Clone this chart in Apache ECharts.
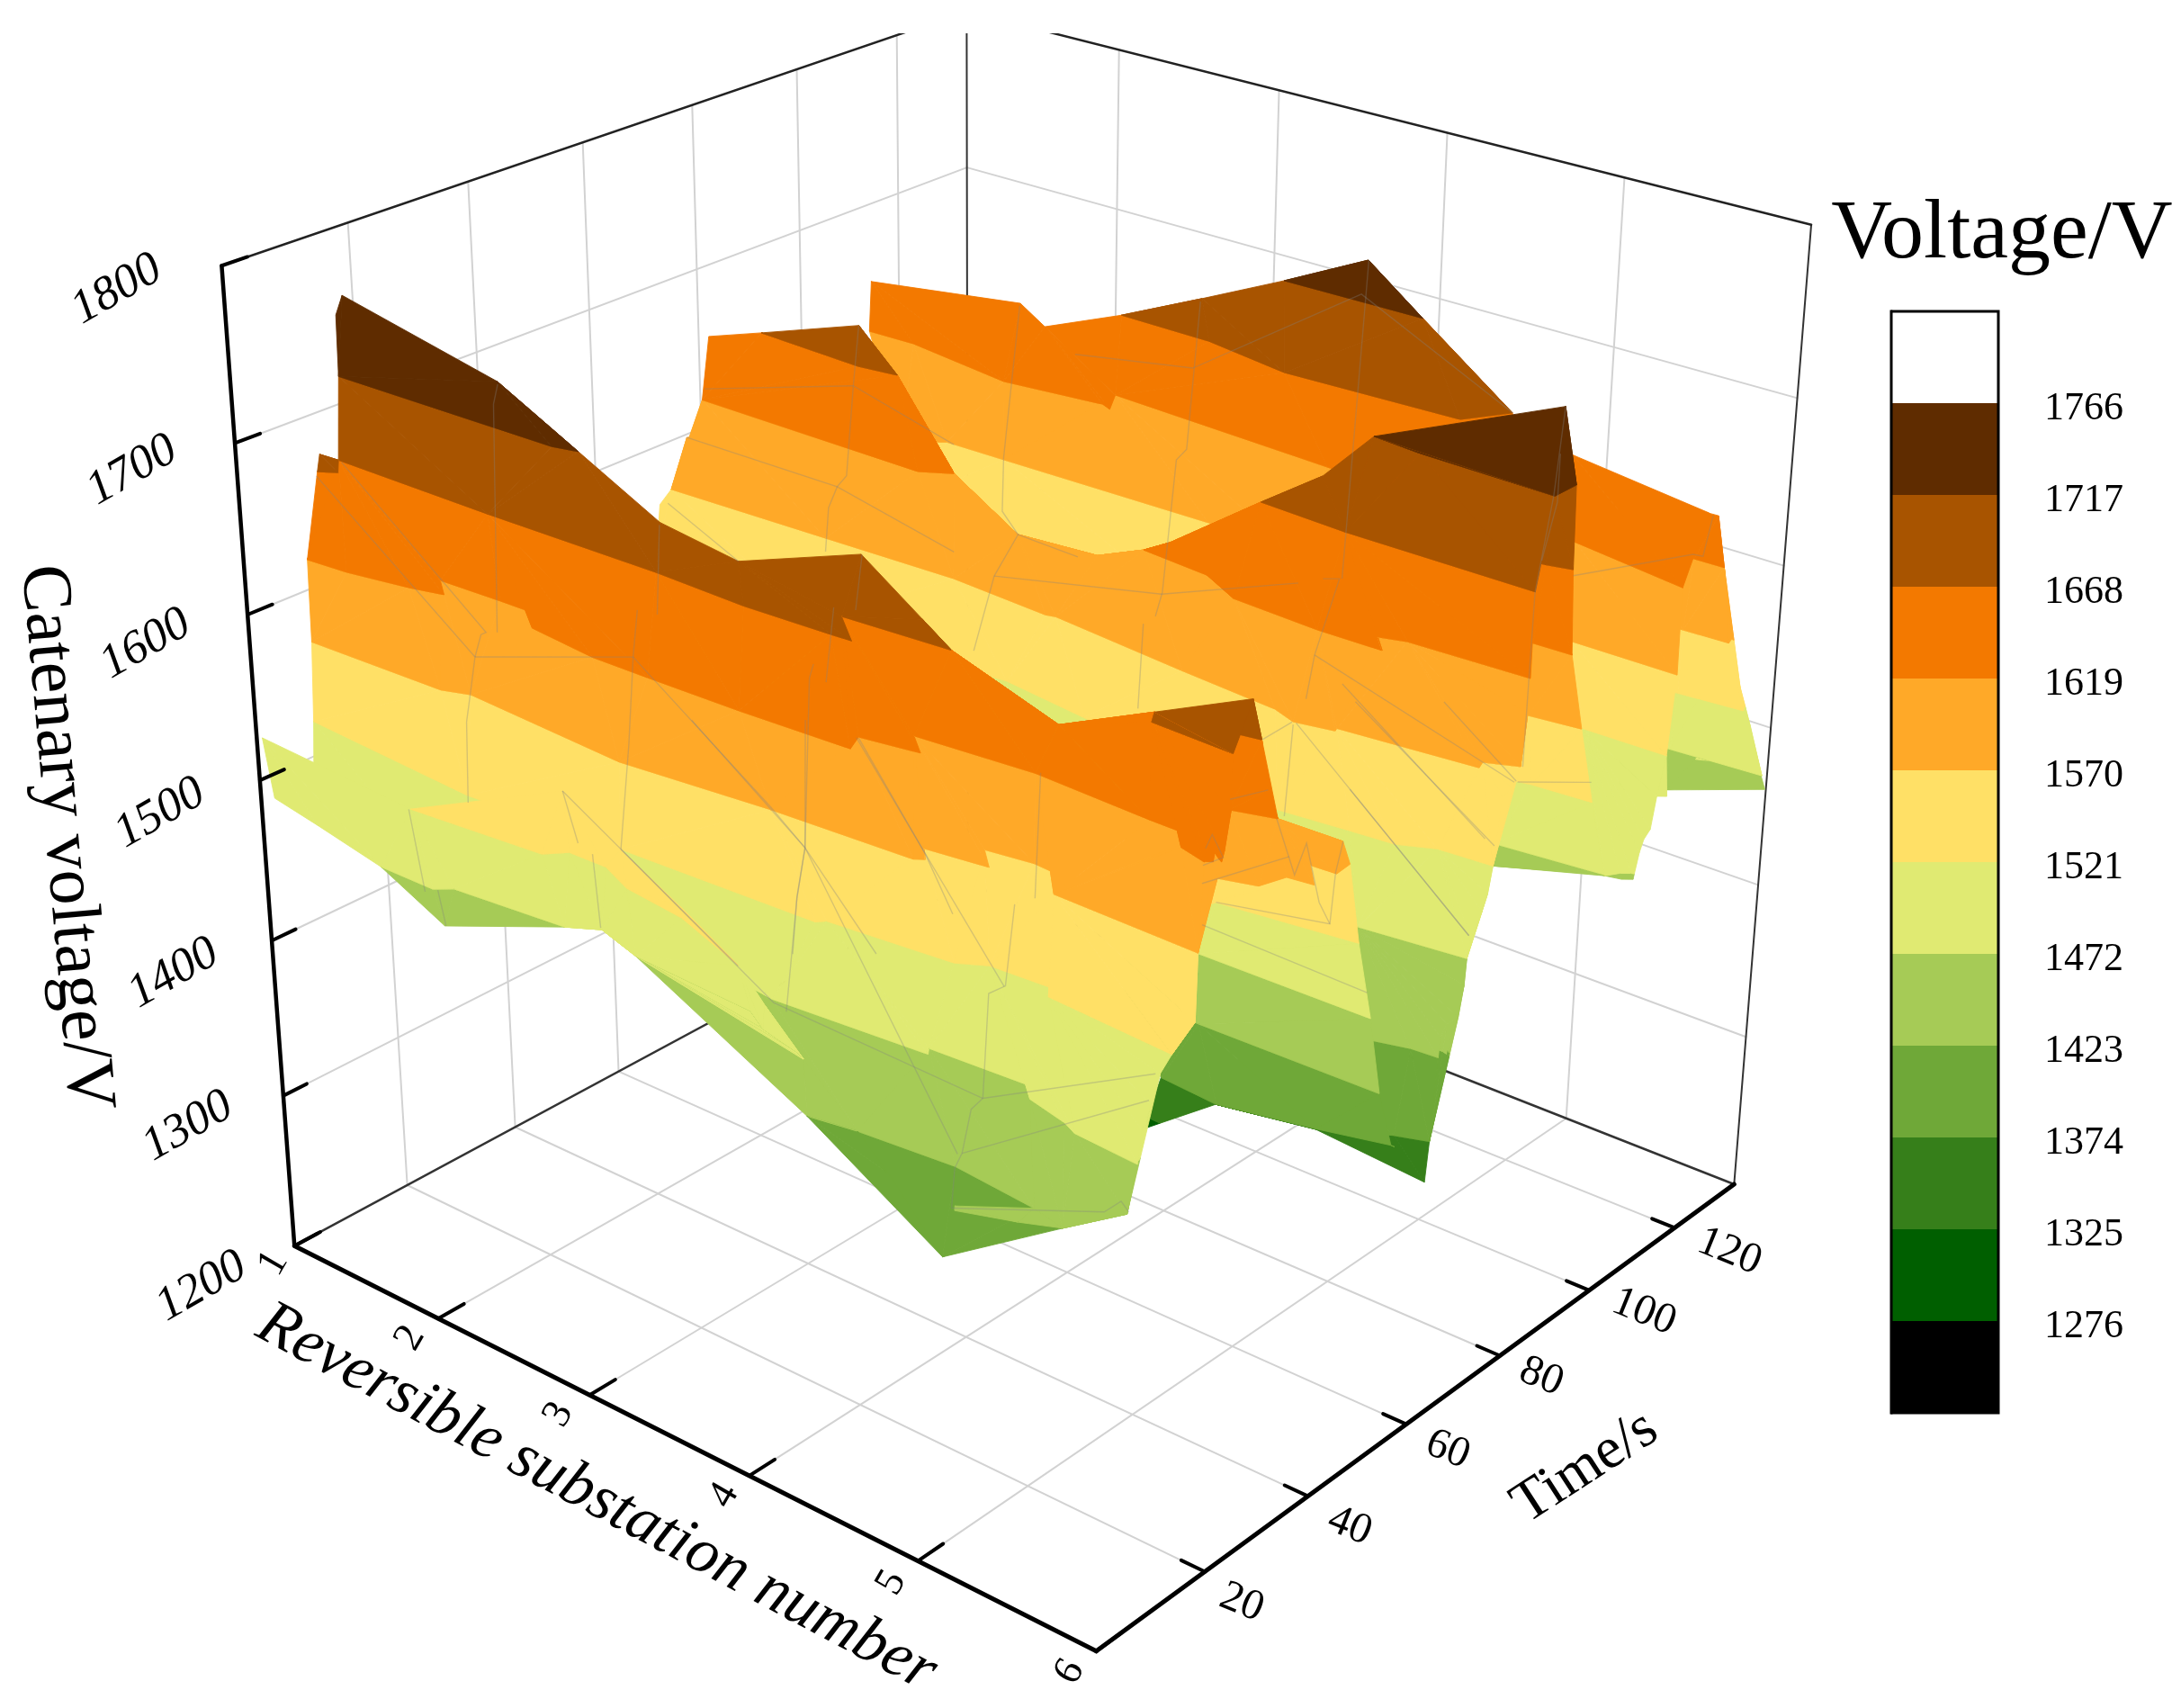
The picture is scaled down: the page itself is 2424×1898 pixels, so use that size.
<!DOCTYPE html>
<html><head><meta charset="utf-8"><style>html,body{margin:0;background:#fff}#c{width:2424px;height:1898px}</style>
<script src="https://cdn.jsdelivr.net/npm/echarts@6/dist/echarts.min.js"></script></head><body><div id="c"></div><script>
const bandEdges=[1227,1276,1325,1374,1423,1472,1521,1570,1619,1668,1717,1766,1815];
const bandColors=['#000000','#005f00','#367f1a','#6fa838','#a6cb56','#e0ea72','#ffe066','#ffa928','#f37900','#a85400','#5f2c00','#ffffff'];
const xTicks=[1,2,3,4,5,6],timeTicks=[20,40,60,80,100,120],voltTicks=[1200,1300,1400,1500,1600,1700,1800];
const xTickLabels=['1','2','3','4','5','6'],timeTickLabels=['20','40','60','80','100','120'],voltTickLabels=['1200','1300','1400','1500','1600','1700','1800'];
// Surface faces, back to front. Each row: [default voltage, [substation, time, voltage?], ...]
const faceB=[[1521,[1.35,109.3],[2.47,98.6],[3.11,109.5],[3.31,121.9],[4.71,130.8]],
[1570,[1.46,106.1],[1.64,110.2],[2.01,110.4],[3.29,111.2],[3.68,112.5],[4.91,121.8]],
[1619,[1.01,113.5],[1.30,113.8],[1.99,111.0],[2.56,113.2],[2.63,112.4],[2.53,116.9],[3.89,115.0],[5.13,112.2]],
[1668,[1.00,114.3,1650],[2.00,114.1,1665],[2.19,113.1,1657],[2.53,118.0],[3.08,117.9],[3.61,115.3],[4.60,116.7],[4.74,122.8]],
[1717,[2.53,118.0,1668],[2.99,119.3,1690],[3.51,118.4],[4.31,118.8],[4.74,122.8,1668]],
[1717,[3.51,118.4],[4.09,114.9,1750],[4.31,118.8]]];
const faceT=[[1450,[5.28,130.5,1440],[5.45,134.4,1440],[5.90,138.9]],
[1472,[5.23,131.9],[5.51,132.2],[6.00,133.2],[5.96,131.2,1505],[5.99,127.8,1521]],
[1521,[5.33,126.7],[5.65,126.9],[5.99,127.8],[5.97,126.1,1545],[5.99,123.0,1570]],
[1570,[5.41,122.2],[5.75,122.7],[5.99,123.0],[5.99,120.6,1619]],
[1619,[5.48,118.3],[5.83,120.5],[5.99,120.6]],
[1650,[5.39,121.0],[5.82,119.5],[5.96,119.7],[5.99,120.6,1619]]];
const faceS=[[1472,[5.63,95.6],[6.01,96.9],[6.07,98.2,1470],[6.11,99.1,1470],[6.07,101.9,1480],[6.10,101.4,1490],[6.11,102.3,1495],[6.08,104.6,1510],[6.16,103.4,1515]],
[1521,[5.23,110.3],[5.53,110.4],[5.98,110.6]],
[1570,[5.15,112.5],[5.43,110.8],[6.00,110.9]],
[1619,[5.01,116.9],[5.31,115.3],[5.97,112.1]],
[1655,[4.87,121.4,1668],[5.16,119.8,1660],[5.91,119.7,1650]]];
const faceQ=[[1445,[5.01,100.3],[5.32,100.1],[6.01,96.9,1472]],
[1472,[5.13,95.5],[5.44,95.3],[6.00,97.1]],
[1521,[5.25,90.3],[5.68,93.1],[5.99,93.8]],
[1570,[5.29,87.8],[5.73,89.5],[5.99,90.5]],
[1619,[5.29,87.0],[5.80,86.8],[6.00,87.0]],
[1668,[5.36,83.6],[5.87,85.7],[5.99,86.6]],
[1717,[5.38,82.0],[5.85,82.0],[6.00,81.4],[6.00,85.8]],
[1745,[5.82,82.7],[5.97,83.8,1762],[6.00,85.8,1717]]];
const faceD=[[1368,[5.06,53.2,1372],[5.50,57.5],[5.88,66.2,1335]],
[1374,[5.08,52.6],[5.55,55.7],[5.85,60.5],[6.00,62.1]],
[1423,[5.18,57.3],[5.86,62.8],[6.00,63.1],[5.96,65.0,1430],[5.98,65.4,1438],[6.04,65.3,1445],[6.02,67.0,1460],[5.99,68.5,1472]],
[1472,[1.00,70.1],[3.33,69.2],[4.64,66.6],[5.45,66.6],[5.99,68.5],[5.96,70.3,1480],[5.99,71.2,1495],[6.00,71.8,1505],[6.01,72.2,1521]],
[1521,[0.88,74.0],[1.98,72.1],[3.16,74.5],[3.69,72.5],[4.96,67.6],[5.33,68.7],[5.56,69.3],[5.73,71.6],[6.01,72.2],[5.92,77.1,1550],[5.96,77.6,1555],[6.00,77.3,1570]],
[1570,[0.99,72.0,1562],[1.01,73.7],[2.00,74.8],[2.79,75.7],[3.39,74.6],[3.44,75.0],[4.26,72.6],[4.83,71.2],[4.97,69.8],[5.17,71.0],[5.16,71.7],[5.87,73.9],[5.85,75.4],[6.00,77.3],[5.96,79.9,1595],[6.00,78.4,1619]],
[1619,[1.01,73.7,1570],[1.03,76.4,1600],[1.09,76.4,1603],[1.02,79.8],[2.44,79.6],[2.59,82.1],[2.93,83.9,1590],[3.28,88.5,1582],[3.85,78.6],[4.47,77.0],[4.50,74.1],[4.99,73.3],[5.34,73.5],[5.24,76.3],[5.37,77.5],[6.00,78.4]],
[1668,[0.99,82.2,1655],[1.35,82.1],[2.01,81.3],[2.23,82.2],[2.59,82.1,1619],[2.93,83.9,1590],[3.28,88.5,1582],[3.85,78.6,1619],[4.02,78.0,1630],[4.50,79.1],[4.99,78.3],[6.00,78.4]],
[1717,[1.35,82.1,1668],[1.97,82.7,1690],[2.23,82.2,1668],[2.59,82.1,1619],[2.93,83.9,1590],[3.28,88.5,1582],[3.85,78.6,1619],[4.02,78.0,1630],[4.50,79.1,1668],[4.79,80.8,1690],[5.01,82.7],[5.28,81.9],[6.00,81.4]],
[1717,[5.01,82.7],[5.97,83.8,1762],[6.00,81.4]]];
const faceE=[[1372,[4.40,61.6,1310],[5.06,53.2],[5.52,56.9,1370],[5.91,58.4,1374]],
[1374,[4.74,53.4],[5.08,52.6],[5.55,55.7],[5.89,58.4]],
[1423,[4.56,52.1],[5.01,51.2],[5.99,51.7]],
[1472,[4.63,49.4],[5.07,48.9],[5.99,49.3]],
[1521,[4.85,41.9],[5.28,42.1],[5.30,43.8],[5.99,46.4]],
[1570,[5.17,31.2],[5.59,31.2],[5.82,33.2],[5.86,36.9],[5.99,37.4],[5.87,41.0],[6.00,41.2],[5.99,44.1]],
[1619,[5.25,28.0],[5.79,28.5],[5.99,30.2],[6.13,37.3,1600]],
[1668,[5.60,24.0],[5.88,25.9],[6.00,26.5],[6.01,27.5,1640],[5.99,30.2,1619],[6.13,37.3,1600]],
[1695,[5.90,15.4],[6.03,23.7],[6.00,26.5,1668]]];
const faceF=[[1423,[4.48,5.9],[5.04,3.4,1380],[5.65,4.8],[5.97,5.4,1445]],
[1423,[3.17,20.3],[4.48,5.9],[4.99,7.2],[5.46,6.0],[5.65,4.8],[5.97,5.4,1445]],
[1472,[0.97,9.5,1490],[1.88,2.7,1495],[2.46,9.5,1490],[3.02,9.5,1480],[3.92,8.1],[4.75,10.0],[4.72,11.1],[5.31,12.1],[5.32,9.7],[5.55,8.2],[5.64,7.1],[5.99,6.4],[5.99,7.1,1490],[5.98,8.9,1500],[5.96,11.2,1512],[5.98,12.5,1521]],
[1521,[1.00,9.3],[2.10,7.2],[3.00,8.9],[4.11,10.2],[4.14,11.2],[4.80,13.0],[4.93,15.1],[5.49,16.0],[5.29,13.8],[5.98,12.5],[6.06,13.7,1540],[5.99,16.4,1570]],
[1570,[1.02,9.4],[1.85,10.0],[1.99,11.4],[2.98,9.7],[3.80,12.0],[4.57,13.2],[4.61,14.0],[4.54,16.0],[4.86,17.2],[4.74,20.2],[4.98,21.2],[5.24,20.6],[5.22,16.9],[5.99,16.4]],
[1619,[1.02,9.6],[1.26,10.1],[1.60,11.8],[1.78,13.1],[1.65,15.8],[2.02,16.2],[2.38,16.4],[2.34,13.1],[2.76,11.8],[3.09,11.9],[3.62,12.2],[4.23,13.0],[4.18,15.9],[4.48,17.3],[4.35,20.2],[4.97,21.7],[5.60,20.9],[5.85,20.8],[5.85,17.9],[6.00,16.8],[6.00,17.0,1625],[6.06,18.2,1625],[6.06,19.2,1645],[5.99,21.8,1668]],
[1668,[1.03,11.9],[1.11,13.3],[1.00,16.1],[1.97,16.1],[2.99,16.6],[3.52,16.2],[4.00,16.8],[4.11,17.0],[3.91,21.3],[4.49,22.4],[5.09,21.8,1650],[5.51,24.5],[5.56,22.3],[5.99,21.8]],
[1717,[1.02,16.5],[2.35,17.3],[2.48,18.2],[3.05,15.9,1699],[3.51,15.8,1693],[4.14,17.9,1715],[4.46,18.4,1690],[4.49,22.4,1668],[5.09,21.8,1650],[5.51,24.5,1668],[6.07,22.3,1699]],
[1760,[1.07,15.5,1755],[1.04,17.4,1763],[2.05,16.7,1745],[2.48,18.2,1717]]];
const faceF2=[[1423,[5.22,-0.1],[5.48,2.6],[5.65,4.8]],[1430,[5.26,-1.3],[5.52,4.0],[5.65,4.8,1423]]];
const faceF3=[[1668,[1.03,11.9],[1.11,13.3],[1.00,16.1]],[1680,[1.07,11.5],[1.00,16.1,1668]]];
const faceG=[[1472,[1.72,1.8],[2.04,3.9,1445],[2.77,5.2],[3.06,3.7,1485],[3.20,5.4],[4.23,4.7,1423],[5.04,3.4,1380]],
[1472,[1.06,0.8,1490],[1.29,2.1,1480],[1.72,1.8],[2.06,1.8],[2.13,3.5],[2.77,5.2],[3.06,3.7,1485],[3.20,5.4],[3.92,4.4],[4.07,2.2],[4.32,0.7],[4.38,0.0],[4.48,5.9,1423],[4.60,7.6,1400],[5.04,3.4,1380]],
[1521,[0.60,9.9,1495],[2.01,0.2],[2.77,2.0],[2.85,4.4],[3.07,4.5],[3.28,2.2],[3.65,1.0],[4.13,-3.2],[4.17,-0.3,1495],[4.38,0.0,1472],[4.48,5.9,1423],[4.60,7.6,1400],[5.04,3.4,1380]],
[1540,[2.01,0.2,1521],[2.75,6.3,1550],[3.20,3.6,1538],[3.68,0.1,1530],[4.13,-3.2,1521]]];
const meshVoltage=1550;
const meshPaths=[[[-0.98,93.5],[-0.79,87.7],[1.32,33.1]],[[1.00,71.5],[1.75,50.2]],[[1.64,49.6],[2.00,38.9],[2.64,20.5],[3.34,-0.1]],[[-0.76,53.4],[1.44,26.1],[1.71,18.3],[1.92,12.2],[2.52,-3.1]],[[-0.80,59.0],[1.28,32.2],[1.28,31.3],[1.44,26.1]],[[1.44,26.1],[2.00,38.9],[3.55,19.1],[3.93,13.9],[4.80,-0.1]],[[2.33,66.5],[2.87,49.0]],[[2.69,52.0],[2.78,48.6],[3.93,13.9],[4.21,4.3],[4.54,-6.1]],[[2.37,-8.8],[2.99,-22.0]],[[3.02,-20.8],[3.28,-26.2]],[[2.75,6.3],[3.16,-2.2]],[[3.28,-3.1],[3.78,-15.4]],[[2.75,6.3],[4.44,-12.0]],[[-0.11,144.7],[0.47,126.1],[1.28,100.4],[1.34,96.7],[1.49,90.5],[1.85,79.2]],[[-0.10,111.4],[0.47,126.1],[1.42,118.5]],[[0.30,96.4],[1.34,96.7],[2.33,90.1]],[[0.84,77.6],[1.61,69.4]],[[3.38,39.7],[4.36,21.7],[4.81,12.5]],[[2.01,81.6],[2.43,67.7]],[[0.36,166.6],[1.73,119.3],[2.18,104.7],[2.43,100.0],[2.67,87.5],[3.16,68.0]],[[2.67,87.5],[3.42,97.1],[3.84,111.4]],[[2.43,100.0],[2.83,99.4]],[[1.07,156.4],[1.68,163.2],[1.69,203.9],[3.36,178.8]],[[1.39,216.8],[3.97,116.2]],[[1.08,185.6],[2.37,138.2],[2.42,134.2],[3.41,97.6],[3.56,91.1]],[[3.57,88.3],[4.14,68.1]],[[3.90,114.6],[3.96,116.0],[4.40,94.8],[4.66,83.7]],[[4.78,76.8],[5.31,56.2]],[[4.40,94.8],[5.88,81.1]],[[4.78,77.4],[6.56,45.8]],[[4.69,90.1],[6.10,66.6]],[[5.16,94.0],[5.88,81.5]],[[4.85,87.0],[6.17,65.8]],[[5.37,66.9],[6.56,45.8]],[[5.89,81.4],[6.14,87.0]],[[4.80,136.6],[5.10,152.7],[5.15,153.0],[4.91,165.6]],[[3.87,170.5],[4.22,155.9],[4.58,138.0]],[[3.52,185.7],[4.16,157.4],[4.77,129.0],[5.82,85.2]],[[5.66,28.6],[6.53,27.8]],[[5.58,33.9],[6.06,38.0],[5.80,48.5],[5.65,55.4]],[[5.43,36.5],[5.56,48.3]],[[5.33,40.1],[5.35,43.2],[5.18,47.0],[5.24,43.7]],[[5.30,55.1],[5.68,45.0],[5.54,52.3],[5.91,41.4],[6.06,38.0]],[[5.03,55.6],[5.10,60.5]],[[4.77,71.0],[4.76,77.3]],[[3.34,-0.1],[4.43,-12.0],[4.76,-15.6],[5.90,-16.7],[6.29,-1.0]],[[5.90,-16.7],[5.92,-19.2],[6.11,-26.6],[6.16,-29.3],[6.34,-35.4]],[[6.11,-26.6],[6.40,-5.8]],[[6.34,-35.4],[6.79,-26.1],[6.79,-23.4],[6.86,-24.5]],[[2.68,30.3],[3.93,13.9],[6.10,-27.0]],[[3.37,39.6],[5.38,3.3]],[[4.23,46.6],[4.98,21.4]],[[4.95,18.8],[5.38,3.5],[5.37,1.0],[5.90,-16.7]],[[3.07,39.3],[3.93,13.9],[4.22,4.0],[4.85,-16.2]]];
// camera: where the corners of the axis box fall on the page
const anchors=[[0,0,0,328,1384.5],[1,0,0,1218,1835],[1,1,0,1928,1315.5],[0,1,0,1075,982],[0,0,1,246,295],[1,1,1,2012.7,250],[0,1,1,1075,12.5]];
function solve(A,b){const n=b.length;const M=A.map((r,i)=>[...r,b[i]]);for(let i=0;i<n;i++){let p=i;for(let k=i+1;k<n;k++)if(Math.abs(M[k][i])>Math.abs(M[p][i]))p=k;[M[i],M[p]]=[M[p],M[i]];for(let k=0;k<n;k++)if(k!=i){const f=M[k][i]/M[i][i];for(let j=i;j<=n;j++)M[k][j]-=f*M[i][j]}}return M.map((r,i)=>r[n]/r[i])}
const H=(()=>{const R=[],Y=[];anchors.forEach(([X,T,Z,u,v])=>{R.push([X,T,Z,1,0,0,0,0,-u*X,-u*T,-u*Z]);Y.push(u);R.push([0,0,0,0,X,T,Z,1,-v*X,-v*T,-v*Z]);Y.push(v)});const n=11,A=[...Array(n)].map(()=>Array(n).fill(0)),b=Array(n).fill(0);R.forEach((r,k)=>{for(let i=0;i<n;i++){b[i]+=r[i]*Y[k];for(let j=0;j<n;j++)A[i][j]+=r[i]*r[j]}});return solve(A,b)})();
const TM=134.5;
function proj(x,t,z){const X=(x-1)/5,T=t/TM,Z=(z-1200)/600,w=H[8]*X+H[9]*T+H[10]*Z+1;return[(H[0]*X+H[1]*T+H[2]*Z+H[3])/w,(H[4]*X+H[5]*T+H[6]*Z+H[7])/w]}
const readRow=r=>r.slice(1).map(p=>[p[0],p[1],p.length>2?p[2]:r[0]]);
const faces=[faceB,faceT,faceS,faceQ,faceD,faceE,faceF,faceF2,faceF3,faceG].map(f=>f.map(readRow));
const meshLines=meshPaths.map(l=>l.map(p=>[p[0],p[1],meshVoltage]));
function strip(a,b,out){const A=a.map(p=>proj(...p)[0]),B=b.map(p=>proj(...p)[0]);const s=Math.max(A[0],B[0]);let i=0,j=0;while(i+1<a.length&&A[i+1]<=s)i++;while(j+1<b.length&&B[j+1]<=s)j++;const TOL=45;
while(i<a.length-1||j<b.length-1){let adv;if(i==a.length-1){if(B[j+1]>A[i]+TOL)break;adv=1}else if(j==b.length-1){if(A[i+1]>B[j]+TOL)break;adv=0}else adv=A[i+1]<=B[j+1]?0:1;
if(adv==0){out.push([a[i],a[i+1],b[j]]);i++}else{out.push([a[i],b[j+1],b[j]]);j++}}}
const tris=[];faces.forEach(f=>{for(let r=0;r+1<f.length;r++)strip(f[r],f[r+1],tris)});
function clip(poly,lo,hi){const cut=(P,lim,keep)=>{const o=[];for(let i=0;i<P.length;i++){const a=P[i],b=P[(i+1)%P.length],ia=keep(a[2]),ib=keep(b[2]);if(ia)o.push(a);if(ia!=ib){const s=(lim-a[2])/(b[2]-a[2]);o.push([a[0]+s*(b[0]-a[0]),a[1]+s*(b[1]-a[1]),lim])}}return o};let r=cut(poly,lo,z=>z>=lo);if(r.length)r=cut(r,hi,z=>z<=hi);return r}
function renderSurface(params,api){const tri=tris[params.dataIndex];const ch=[];bandColors.forEach((c,i)=>{const lo=i==0?-1e9:bandEdges[i],hi=i==bandColors.length-1?1e9:bandEdges[i+1];const p=clip(tri,lo,hi);if(p.length>=3)ch.push({type:'polygon',silent:true,shape:{points:p.map(q=>api.coord(proj(...q)))},style:{fill:c,stroke:c,lineWidth:.9}})});return{type:'group',children:ch}}
const frame=[];const L=(p,q,c,w)=>frame.push({p,q,c,w});const G='#d2d2d2';
timeTicks.forEach(t=>{L([1,t,1200],[6,t,1200],G,2);L([1,t,1200],[1,t,1800],G,2)});
xTicks.slice(1,5).forEach(x=>{L([x,0,1200],[x,TM,1200],G,2);L([x,TM,1200],[x,TM,1800],G,2)});
voltTicks.slice(1,6).forEach(z=>{L([1,0,z],[1,TM,z],G,2);L([1,TM,z],[6,TM,z],G,2)});
L([1,TM,1200],[1,0,1200],'#333',2.5);L([1,TM,1200],[6,TM,1200],'#333',2.5);L([1,TM,1200],[1,TM,1800],'#333',2);L([6,TM,1200],[6,TM,1800],'#333',2);L([1,0,1800],[1,TM,1800],'#222',2.5);L([1,TM,1800],[6,TM,1800],'#222',2.5);
const axes=[];const LA=(p,q,w)=>axes.push({p,q,c:'#000',w});
LA([1,0,1200],[1,0,1800],4.5);LA([1,0,1200],[6,0,1200],5);LA([6,0,1200],[6,TM,1200],5);
voltTicks.forEach(z=>LA([1,0,z],[1,4,z],4));xTicks.forEach(x=>LA([x,0,1200],[x,4.5,1200],4));timeTicks.forEach(t=>LA([6,t,1200],[5.87,t,1200],4));
const S='"Liberation Serif"';
const texts=[];const T=(text,x,y,rot,size,it)=>texts.push({text,x,y,rot,size,it});
const voltPos=[[224,1430],[209,1252],[193,1082],[178,904],[162,716],[147,523],[130,322]],xPos=[[304,1404],[456,1487],[621,1572],[805,1662],[991,1759],[1189,1858]],timePos=[[1380,1781],[1500,1696],[1609,1611],[1713,1530],[1827,1458],[1922,1391]];
voltTickLabels.forEach((s,i)=>T(s,voltPos[i][0],voltPos[i][1],30,53,true));
xTickLabels.forEach((s,i)=>T(s,xPos[i][0],xPos[i][1],60,46,false));
timeTickLabels.forEach((s,i)=>T(s,timePos[i][0],timePos[i][1],-22,48,false));
T('Catenary voltage/V',72,931,-85,78,false);T('Reversible substation number',663,1665,-28,71,true);T('Time/s',1762,1631,33,65,false);T('Voltage/V',2225,261,0,94,false);
const lineSer=(name,list,clip)=>({name,type:'custom',coordinateSystem:'cartesian2d',xAxisIndex:0,yAxisIndex:0,clip,silent:true,animation:false,progressive:0,data:list.map((_,i)=>[i,i]),renderItem:(p,api)=>{const l=list[p.dataIndex];const a=api.coord(proj(...l.p)),b=api.coord(proj(...l.q));return{type:'line',silent:true,shape:{x1:a[0],y1:a[1],x2:b[0],y2:b[1]},style:{stroke:l.c,lineWidth:l.w,lineCap:'round'}}}});
const option={animation:false,backgroundColor:'#fff',
grid:[{left:0,top:37,width:2424,height:1861},{left:2102,top:346,width:119,height:1224}],
xAxis:[{type:'value',gridIndex:0,min:0,max:2424,show:false},{type:'value',gridIndex:1,min:0,max:1,show:false}],
yAxis:[{type:'value',gridIndex:0,min:37,max:1898,inverse:true,show:false},{type:'value',gridIndex:1,min:1227,max:1815,position:'right',splitLine:{show:false},axisLine:{show:true,lineStyle:{color:'#000',width:3}},axisTick:{show:true,length:31,lineStyle:{color:'#000',width:3},customValues:bandEdges.slice(1,-1)},axisLabel:{customValues:bandEdges.slice(1,-1),formatter:v=>'{a|'+v+'}',rich:{a:{color:'#000',fontSize:44,fontFamily:S,padding:[12,0,0,0]}},margin:51}}],
series:[lineSer('walls',frame,true),
{name:'surface',type:'custom',coordinateSystem:'cartesian2d',xAxisIndex:0,yAxisIndex:0,clip:false,silent:true,animation:false,progressive:0,data:tris.map((_,i)=>[i,i]),renderItem:renderSurface},
{name:'mesh',type:'custom',coordinateSystem:'cartesian2d',xAxisIndex:0,yAxisIndex:0,clip:false,silent:true,animation:false,progressive:0,data:meshLines.map((_,i)=>[i,i]),renderItem:(p,api)=>({type:'polyline',silent:true,shape:{points:meshLines[p.dataIndex].map(q=>api.coord(proj(...q)))},style:{stroke:'rgba(130,130,130,0.32)',lineWidth:1.4,fill:null}})},
lineSer('axes',axes,false),
{name:'labels',type:'custom',coordinateSystem:'cartesian2d',xAxisIndex:0,yAxisIndex:0,clip:false,silent:true,animation:false,progressive:0,data:texts.map((_,i)=>[i,i]),renderItem:(p,api)=>{const t=texts[p.dataIndex];const c=api.coord([t.x,t.y]);return{type:'text',silent:true,x:c[0],y:c[1],rotation:t.rot*Math.PI/180,style:{text:t.text,fontSize:t.size,fontFamily:S,fontStyle:t.it?'italic':'normal',fill:'#000',align:'center',verticalAlign:'middle'}}}},
{name:'legend',type:'custom',coordinateSystem:'cartesian2d',xAxisIndex:1,yAxisIndex:1,clip:false,silent:true,animation:false,progressive:0,data:bandColors.map((_,i)=>[0,bandEdges[i]]),renderItem:(p,api)=>{const i=p.dataIndex,a=api.coord([0,bandEdges[i]]),b=api.coord([1,bandEdges[i+1]]);return{type:'rect',silent:true,shape:{x:a[0],y:b[1],width:b[0]-a[0],height:a[1]-b[1]},style:{fill:bandColors[i]}}}},
{name:'legendBox',type:'custom',coordinateSystem:'cartesian2d',xAxisIndex:1,yAxisIndex:1,clip:false,silent:true,animation:false,data:[[0,1227]],renderItem:(p,api)=>{const a=api.coord([0,1227]),b=api.coord([1,1815]);return{type:'rect',silent:true,shape:{x:a[0],y:b[1],width:b[0]-a[0],height:a[1]-b[1]},style:{fill:null,stroke:'#000',lineWidth:3}}}}
]};
echarts.init(document.getElementById('c')).setOption(option);
</script></body></html>
